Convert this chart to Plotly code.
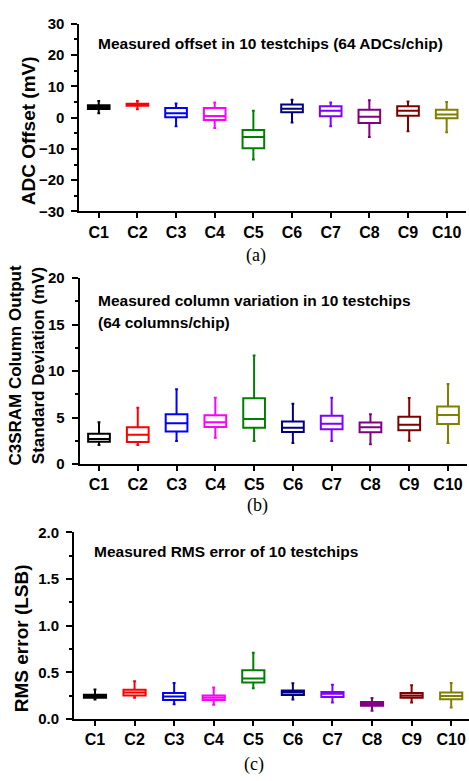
import plotly.graph_objects as go

W, H = 469, 781

chips = ["C1", "C2", "C3", "C4", "C5", "C6", "C7", "C8", "C9", "C10"]
colors = ["#000000", "#ff0000", "#0000ff", "#ff00ff", "#008000",
          "#000080", "#8000ff", "#800080", "#800000", "#808000"]

# Panel (a): ADC offset (mV)
a_low = [1.35, 2.7, -2.8, -3.3, -13.4, -1.6, -2.8, -6.2, -4.4, -4.7]
a_q1 = [2.72, 3.75, 0.1, -0.8, -9.8, 1.7, 0.4, -1.7, 0.6, -0.2]
a_med = [3.3, 4.1, 1.35, 0.5, -6.2, 2.8, 2.2, 0.3, 2.2, 0.95]
a_q3 = [3.97, 4.4, 3.1, 3.1, -4.0, 4.2, 3.6, 2.5, 3.6, 2.5]
a_high = [5.3, 5.3, 4.5, 4.8, 2.2, 5.7, 4.8, 5.5, 5.1, 5.0]

# Panel (b): column output standard deviation (mV)
b_low = [2.05, 2.05, 2.47, 2.83, 2.47, 2.27, 2.47, 2.13, 2.5, 2.27]
b_q1 = [2.4, 2.37, 3.5, 3.98, 3.9, 3.46, 3.74, 3.42, 3.63, 4.3]
b_med = [2.7, 3.15, 4.4, 4.5, 4.86, 3.9, 4.34, 3.95, 4.23, 5.28]
b_q3 = [3.25, 3.95, 5.36, 5.25, 7.07, 4.58, 5.2, 4.47, 5.1, 6.2]
b_high = [4.5, 6.05, 8.05, 7.15, 11.67, 6.5, 7.15, 5.35, 7.1, 8.62]

# Panel (c): RMS error (LSB)
c_low = [0.21, 0.23, 0.16, 0.154, 0.332, 0.21, 0.178, 0.09, 0.178, 0.126]
c_q1 = [0.23, 0.254, 0.206, 0.206, 0.394, 0.258, 0.238, 0.143, 0.23, 0.213]
c_med = [0.246, 0.286, 0.244, 0.23, 0.436, 0.286, 0.272, 0.164, 0.254, 0.248]
c_q3 = [0.262, 0.314, 0.28, 0.254, 0.523, 0.307, 0.29, 0.185, 0.28, 0.286]
c_high = [0.317, 0.405, 0.387, 0.34, 0.712, 0.384, 0.37, 0.227, 0.363, 0.387]

SANS = "Liberation Sans, Arial, sans-serif"
SERIF = "Liberation Serif, Times New Roman, serif"

fig = go.Figure()

panels = [
    ("x", "y", a_low, a_q1, a_med, a_q3, a_high),
    ("x2", "y2", b_low, b_q1, b_med, b_q3, b_high),
    ("x3", "y3", c_low, c_q1, c_med, c_q3, c_high),
]
for xa, ya, lo, q1, med, q3, hi in panels:
    for i, c in enumerate(chips):
        fig.add_trace(go.Box(
            x=[c], q1=[q1[i]], median=[med[i]], q3=[q3[i]],
            lowerfence=[lo[i]], upperfence=[hi[i]],
            line=dict(color=colors[i], width=2),
            fillcolor="rgba(255,255,255,0)",
            whiskerwidth=0.13, boxpoints=False, showlegend=False,
            xaxis=xa, yaxis=ya, hoverinfo="skip",
        ))


def px_x(p):
    return p / W


def px_y(p):
    return 1 - p / H


ytickfont = dict(family=SANS, size=15, color="black", weight="bold")
xtickfont = dict(family=SANS, size=16, color="black", weight="bold")

common_x = dict(type="category", categoryorder="array", categoryarray=chips,
                showline=True, linecolor="black", linewidth=2,
                ticks="outside", ticklen=5, tickwidth=2, tickcolor="black",
                tickfont=xtickfont, showgrid=False, zeroline=False, fixedrange=True)
common_y = dict(showline=True, linecolor="black", linewidth=2,
                ticks="outside", ticklen=6, tickwidth=2, tickcolor="black",
                tickfont=ytickfont, ticklabelstandoff=4,
                showgrid=False, zeroline=False)

fig.update_layout(
    width=W, height=H,
    margin=dict(l=0, r=0, t=0, b=0),
    paper_bgcolor="white", plot_bgcolor="white",
    boxmode="overlay", boxgap=0.2,
    xaxis=dict(common_x, domain=[px_x(79.4), px_x(466)], range=[-0.5, 9.5], anchor="y"),
    yaxis=dict(common_y, domain=[px_y(207), px_y(15)], range=[-30, 30], dtick=10,
               minor=dict(dtick=5, ticks="outside", ticklen=3, tickwidth=2, tickcolor="black"),
               anchor="x"),
    xaxis2=dict(common_x, domain=[px_x(79.6), px_x(467.4)], range=[-0.5, 9.5], anchor="y2"),
    yaxis2=dict(common_y, domain=[px_y(465.2), px_y(275.2)], range=[0, 20], dtick=5,
                minor=dict(dtick=2.5, ticks="outside", ticklen=3, tickwidth=2, tickcolor="black"),
                anchor="x2"),
    xaxis3=dict(common_x, domain=[px_x(74), 1.0], range=[-0.53, 9.45], anchor="y3"),
    yaxis3=dict(common_y, domain=[px_y(726), px_y(535)], range=[0, 2], dtick=0.5,
                tickformat=".1f",
                minor=dict(dtick=0.25, ticks="outside", ticklen=3, tickwidth=2, tickcolor="black"),
                anchor="x3"),
)

ann_font = dict(family=SANS, size=15.5, color="black", weight="bold")
title_font_a = dict(family=SANS, size=19, color="black", weight="bold")
title_font_b = dict(family=SANS, size=17, color="black", weight="bold")
cap_font = dict(family=SERIF, size=18, color="black")

annots = [
    dict(text="Measured offset in 10 testchips (64 ADCs/chip)", x=px_x(96), y=px_y(35),
         xanchor="left", yanchor="middle", font=ann_font),
    dict(text="Measured column variation in 10 testchips", x=px_x(96), y=px_y(297.7),
         xanchor="left", yanchor="middle", font=ann_font),
    dict(text="(64 columns/chip)", x=px_x(96), y=px_y(320),
         xanchor="left", yanchor="middle", font=ann_font),
    dict(text="Measured RMS error of 10 testchips", x=px_x(92), y=px_y(555),
         xanchor="left", yanchor="middle", font=ann_font),
    dict(text="ADC Offset (mV)", x=px_x(28), y=px_y(125), textangle=-90,
         xanchor="center", yanchor="middle", font=title_font_a),
    dict(text="C3SRAM Column Output<br>Standard Deviation (mV)", x=px_x(26.5), y=px_y(364),
         textangle=-90, xanchor="center", yanchor="middle", font=title_font_b),
    dict(text="RMS error (LSB)", x=px_x(21.7), y=px_y(643.5), textangle=-90,
         xanchor="center", yanchor="middle", font=title_font_a),
    dict(text="(a)", x=px_x(256), y=px_y(252), xanchor="center", yanchor="middle", font=cap_font),
    dict(text="(b)", x=px_x(257), y=px_y(507.5), xanchor="center", yanchor="middle", font=cap_font),
    dict(text="(c)", x=px_x(254), y=px_y(772), xanchor="center", yanchor="middle", font=cap_font),
]
for a in annots:
    fig.add_annotation(xref="paper", yref="paper", showarrow=False, **a)

fig.write_html("out.html")
